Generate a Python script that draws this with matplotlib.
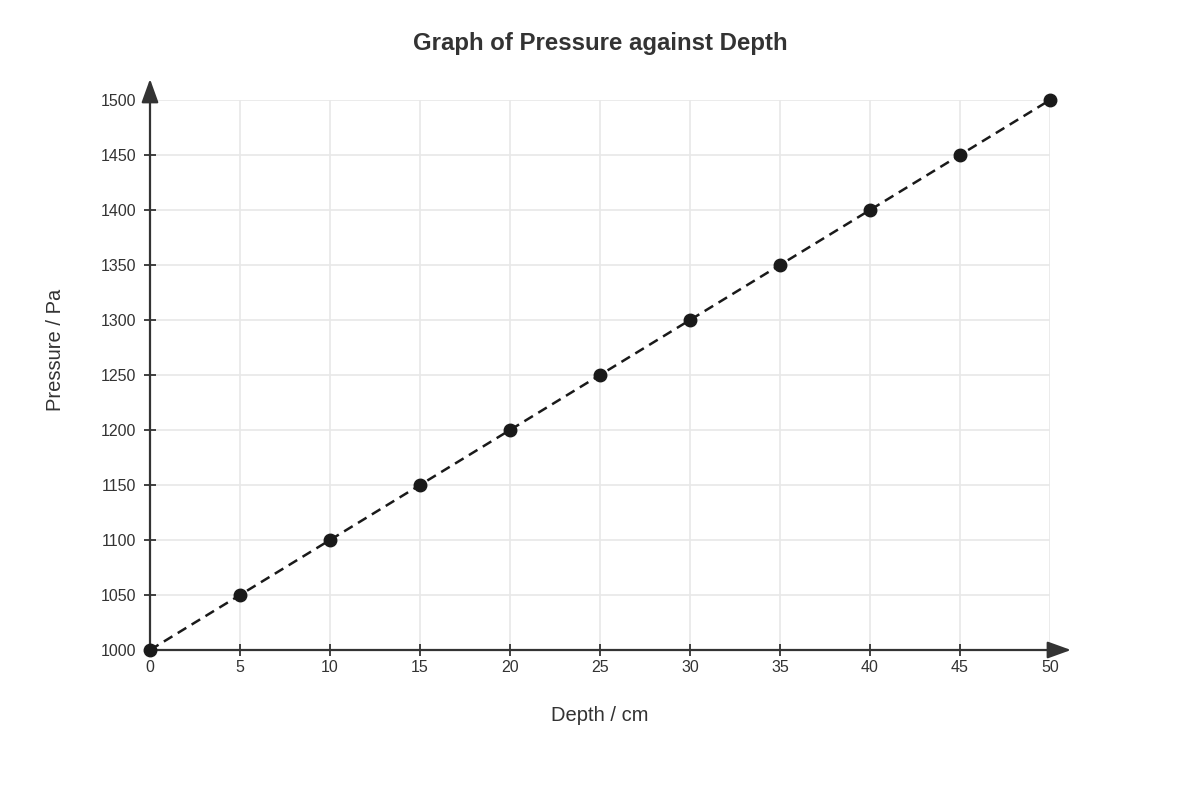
import matplotlib.pyplot as plt

depth = [0, 5, 10, 15, 20, 25, 30, 35, 40, 45, 50]
pressure = [1000, 1050, 1100, 1150, 1200, 1250, 1300, 1350, 1400, 1450, 1500]
x_ticks = [0, 5, 10, 15, 20, 25, 30, 35, 40, 45, 50]
y_ticks = [1000, 1050, 1100, 1150, 1200, 1250, 1300, 1350, 1400, 1450, 1500]

plt.rcParams['font.family'] = ['Liberation Sans', 'DejaVu Sans']
axis_col = '#333333'

fig = plt.figure(figsize=(12, 8), dpi=100)
ax = fig.add_axes([0.125, 0.1875, 0.75, 0.6875])

ax.plot(depth, pressure, color='#1a1a1a', linestyle=(0, (4, 2.5)), linewidth=1.8,
        marker='o', markersize=9, clip_on=False, zorder=5)

ax.set_xlim(0, 50)
ax.set_ylim(1000, 1500)
ax.set_xticks(x_ticks)
ax.set_yticks(y_ticks)
ax.grid(True, color='#e8e8e8', linewidth=1.2)
ax.set_axisbelow(True)

for s in ax.spines.values():
    s.set_visible(False)

ax.tick_params(direction='inout', length=8, width=1.3, color=axis_col,
               labelcolor=axis_col, labelsize=11.5)
ax.tick_params(axis='y', pad=6)
ax.tick_params(axis='x', pad=3.5)

# axis arrows
arrow = dict(arrowstyle='-|>,head_length=0.72,head_width=0.26', color=axis_col,
             lw=1.6, mutation_scale=20, shrinkA=0, shrinkB=0)
ax.annotate('', xy=(1 + 21 / 900, 0), xytext=(0, 0), xycoords='axes fraction',
            arrowprops=arrow, annotation_clip=False)
ax.annotate('', xy=(0, 1 + 21 / 550), xytext=(0, 0), xycoords='axes fraction',
            arrowprops=arrow, annotation_clip=False)

ax.set_xlabel('Depth / cm', fontsize=14.5, color=axis_col, labelpad=22)
ax.set_ylabel('Pressure / Pa', fontsize=14.5, color=axis_col)
ax.yaxis.set_label_coords(-85 / 900, 300 / 550)
fig.suptitle('Graph of Pressure against Depth', fontsize=17.3, fontweight='bold',
             color=axis_col, y=0.96)

fig.savefig('out.png', dpi=100)
